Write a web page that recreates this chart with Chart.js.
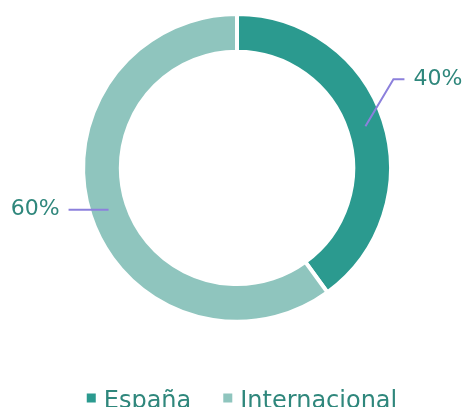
<!DOCTYPE html>
<html><head><meta charset="utf-8">
<script src="https://cdn.jsdelivr.net/npm/chart.js@4/dist/chart.umd.min.js"></script>
<style>
html,body{margin:0;padding:0;overflow:hidden;background:#fff;}
#wrap{width:469px;height:464px;position:relative;}
</style></head><body>
<div id="wrap"><canvas id="c" width="469" height="464"></canvas></div>
<script>
const categories = ["España", "Internacional"];
const values = [40, 60];
const labelsText = ["40%", "60%"];
const colors = ["#2b9a8f", "#8fc5be"];
const textColor = "#2f877c";
const leaderColor = "#8c80dc";
// leader line shapes (elbow offset from anchor, horizontal run)
const leaderElbow = [[28, -47], [0, 0]];
const leaderRun = [11, -40];
const FONT = '"DejaVu Sans", sans-serif';
const LEGEND_BOX = 9;
const LEGEND_SHIFT = 5;

const labelPlugin = {
  id: 'outLabels',
  afterLayout(chart) {
    const lg = chart.legend;
    if (lg) { lg.left += LEGEND_SHIFT; lg.right += LEGEND_SHIFT; }
  },
  afterDatasetsDraw(chart) {
    const ctx = chart.ctx;
    const meta = chart.getDatasetMeta(0);
    meta.data.forEach((arc, i) => {
      const p = arc.getProps(['x','y','startAngle','endAngle','innerRadius','outerRadius'], true);
      const mid = (p.startAngle + p.endAngle) / 2;
      const r = (p.innerRadius + p.outerRadius) / 2;
      const ax = p.x + Math.cos(mid) * r;
      const ay = p.y + Math.sin(mid) * r;
      const ex = ax + leaderElbow[i][0];
      const ey = ay + leaderElbow[i][1];
      const hx = ex + leaderRun[i];
      ctx.save();
      ctx.strokeStyle = leaderColor;
      ctx.lineWidth = 2;
      ctx.beginPath();
      ctx.moveTo(ax, ay); ctx.lineTo(ex, ey); ctx.lineTo(hx, ey);
      ctx.stroke();
      ctx.font = '400 22px ' + FONT;
      ctx.fillStyle = textColor;
      ctx.textBaseline = 'middle';
      if (leaderRun[i] > 0) { ctx.textAlign = 'left'; ctx.fillText(labelsText[i], hx + 9, ey); }
      else { ctx.textAlign = 'right'; ctx.fillText(labelsText[i], hx - 9, ey); }
      ctx.restore();
    });
  },
  afterDraw(chart) {
    const lg = chart.legend;
    if (!lg || !lg.legendHitBoxes) return;
    const ctx = chart.ctx;
    lg.legendHitBoxes.forEach((hb, i) => {
      ctx.save();
      ctx.fillStyle = colors[i];
      ctx.fillRect(hb.left, hb.top + hb.height / 2 - LEGEND_BOX / 2 - 4, LEGEND_BOX, LEGEND_BOX);
      ctx.restore();
    });
  }
};

new Chart(document.getElementById('c'), {
  type: 'doughnut',
  data: {
    labels: categories,
    datasets: [{ data: values, backgroundColor: colors, borderColor: '#ffffff', borderWidth: 4, hoverOffset: 0 }]
  },
  options: {
    responsive: false,
    animation: false,
    cutout: '75.5%',
    layout: { padding: { top: 12, left: 5, bottom: 40 } },
    plugins: {
      tooltip: { enabled: false },
      legend: {
        position: 'bottom',
        title: { display: true, text: '', padding: { top: 0, bottom: 15 }, font: { size: 16 } },
        labels: {
          boxWidth: 5, boxHeight: 9, padding: 32,
          color: textColor,
          font: { family: FONT, size: 24, weight: '400' },
          generateLabels(chart) {
            return categories.map((c, i) => ({ text: c, fillStyle: 'rgba(0,0,0,0)', strokeStyle: 'rgba(0,0,0,0)', lineWidth: 0, index: i, fontColor: textColor }));
          }
        }
      }
    }
  },
  plugins: [labelPlugin]
});
</script>
</body></html>
